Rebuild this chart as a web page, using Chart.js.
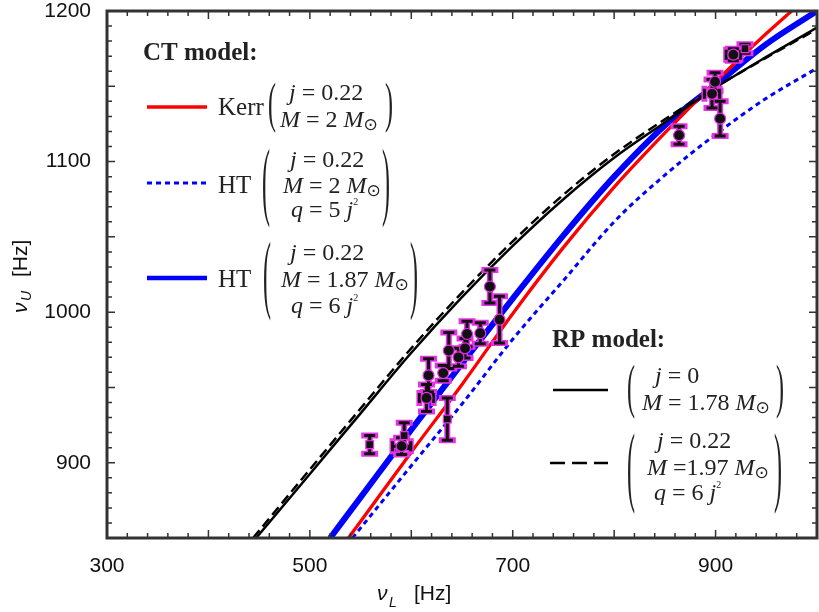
<!DOCTYPE html>
<html>
<head>
<meta charset="utf-8">
<script src="https://cdn.jsdelivr.net/npm/chart.js@4.4.1/dist/chart.umd.min.js"></script>
<style>
  html, body { margin: 0; padding: 0; background: #fff; }
  #wrap { width: 819px; height: 612px; }
</style>
</head>
<body>
<div id="wrap"><canvas id="qpoChart"></canvas></div>
<script>
// observed twin kHz QPOs: lower / upper frequency (Hz) with errors
const obsL = [559, 590.5, 593, 615, 617, 631.5, 635.5, 637, 646.5, 653, 655, 668, 677.5, 687, 864, 904.5, 896.5, 899.5, 917.5, 929];
const obsU = [912, 911, 918, 943, 958, 959.5, 929, 974.5, 970, 976, 985.5, 986, 1017, 995, 1117.5, 1128.5, 1145, 1153, 1171, 1175];
const errU = [6, 5.5, 8.5, 9, 11, 5, 14, 12, 6, 6.5, 8.5, 7, 11, 15.5, 6, 11.5, 9.5, 6, 4, 3];
const errL = [0, 9, 0, 7, 0, 0, 0, 0, 0, 0, 0, 0, 0, 0, 0, 0, 7.5, 0, 7, 0];
const obsMarker = ['rect', 'circle', 'rect', 'circle', 'circle', 'circle', 'rect', 'circle', 'circle', 'circle',
                   'circle', 'circle', 'circle', 'circle', 'circle', 'circle', 'circle', 'circle', 'circle', 'rect'];

// CT model, Kerr j=0.22 M=2
const kerrX = [538, 550, 600, 650, 700, 750, 800, 850, 900, 950, 975];
const kerrY = [850, 861, 907, 952, 999, 1043, 1083, 1119, 1153, 1185, 1200];
// CT model, HT j=0.22 M=2 q=5j^2
const ht2X = [542, 600, 650, 700, 750, 800, 850, 900, 950, 1000];
const ht2Y = [850, 898, 939, 982, 1021, 1060, 1091, 1118, 1142, 1162];
// CT model, HT j=0.22 M=1.87 q=6j^2
const ht187X = [520, 550, 600, 650, 700, 750, 800, 850, 900, 950, 1000];
const ht187Y = [850, 877, 922, 966, 1009, 1051, 1090, 1124, 1151, 1178, 1200];
// RP model, j=0 M=1.78
const rp0X = [447, 500, 550, 600, 650, 700, 750, 800, 850, 900, 950, 1000];
const rp0Y = [850, 892.5, 932.8, 973, 1010, 1044, 1075, 1102.5, 1126, 1149, 1169.5, 1189];
// RP model, j=0.22 M=1.97 q=6j^2
const rp22X = [444, 500, 550, 600, 650, 700, 750, 800, 850, 900, 950, 1000];
const rp22Y = [850, 895.5, 936, 976, 1013, 1047, 1078, 1105, 1128, 1149.5, 1169, 1188];

const xTickValues = [300, 500, 700, 900];
const yTickValues = [900, 1000, 1100, 1200];

const MAGENTA = '#e632e6';
const pts = (xs, ys) => xs.map((x, i) => ({ x: x, y: ys[i] }));

function curve(xs, ys, color, width, dash) {
  return {
    data: pts(xs, ys),
    showLine: true,
    borderColor: color,
    borderWidth: width,
    borderDash: dash || [],
    pointRadius: 0,
    cubicInterpolationMode: 'monotone',
    clip: 0
  };
}

// error bars with magenta halo, drawn just before the observed points
const errorBars = {
  id: 'errorBars',
  beforeDatasetDraw(chart, args) {
    if (args.index !== 0) return;
    const { ctx, chartArea: a, scales: { x, y } } = chart;
    ctx.save();
    ctx.beginPath();
    ctx.rect(a.left, a.top, a.width, a.height);
    ctx.clip();
    [[MAGENTA, 6, 'square'], ['#111', 3, 'butt']].forEach(([col, w, cap]) => {
      ctx.strokeStyle = col;
      ctx.lineWidth = w;
      ctx.lineCap = cap;
      obsL.forEach((l, i) => {
        const px = x.getPixelForValue(l);
        const py = y.getPixelForValue(obsU[i]);
        const t = y.getPixelForValue(obsU[i] + errU[i]);
        const b = y.getPixelForValue(obsU[i] - errU[i]);
        ctx.beginPath();
        ctx.moveTo(px, t); ctx.lineTo(px, b);
        ctx.moveTo(px - 5.5, t); ctx.lineTo(px + 5.5, t);
        ctx.moveTo(px - 5.5, b); ctx.lineTo(px + 5.5, b);
        if (errL[i] > 0) {
          const lx = x.getPixelForValue(l - errL[i]);
          const rx = x.getPixelForValue(l + errL[i]);
          ctx.moveTo(lx, py); ctx.lineTo(rx, py);
          ctx.moveTo(lx, py - 5); ctx.lineTo(lx, py + 5);
          ctx.moveTo(rx, py - 5); ctx.lineTo(rx, py + 5);
        }
        ctx.stroke();
      });
    });
    ctx.restore();
  }
};

// box frame with inward ticks on all four sides
const frameTicks = {
  id: 'frameTicks',
  afterDatasetsDraw(chart) {
    const { ctx, chartArea: a, scales: { x, y } } = chart;
    ctx.save();
    ctx.strokeStyle = '#333';
    ctx.lineWidth = 1.5;
    ctx.beginPath();
    for (let v = 300; v <= 1000; v += 20) {
      const px = x.getPixelForValue(v);
      const len = v % 100 === 0 ? 8 : 5;
      ctx.moveTo(px, a.bottom); ctx.lineTo(px, a.bottom - len);
      ctx.moveTo(px, a.top); ctx.lineTo(px, a.top + len);
    }
    for (let v = 850; v <= 1200; v += 10) {
      const py = y.getPixelForValue(v);
      const len = v % 50 === 0 ? 8 : 5;
      ctx.moveTo(a.left, py); ctx.lineTo(a.left + len, py);
      ctx.moveTo(a.right, py); ctx.lineTo(a.right - len, py);
    }
    ctx.stroke();
    ctx.lineWidth = 3;
    ctx.strokeRect(a.left, a.top, a.width, a.height);
    ctx.restore();
  }
};

const SERIF = '"Liberation Serif", "Times New Roman", serif';
const SANS = '"Liberation Sans", Arial, sans-serif';

// one line of math: [text, kind] runs, kind = n | i | sup | sun
function mathLine(ctx, x, y, runs, size) {
  runs.forEach(([txt, kind]) => {
    let dy = 0;
    if (kind === 'i') ctx.font = `italic ${size}px ${SERIF}`;
    else if (kind === 'sup') { ctx.font = `${Math.round(size * 0.42)}px ${SERIF}`; dy = -size * 0.5; }
    else if (kind === 'sun') { ctx.font = `${Math.round(size * 0.72)}px "DejaVu Sans"`; dy = size * 0.14; }
    else ctx.font = `${size}px ${SERIF}`;
    ctx.fillText(txt, x, y + dy);
    x += ctx.measureText(txt).width;
  });
}

// stretched parenthesis spanning yTop..yBottom
function paren(ctx, ch, x, yTop, yBottom) {
  ctx.save();
  ctx.font = `24px ${SERIF}`;
  const m = ctx.measureText(ch);
  const asc = m.actualBoundingBoxAscent, desc = m.actualBoundingBoxDescent;
  const k = (yBottom - yTop) / (asc + desc);
  ctx.translate(x, yTop + asc * k);
  ctx.scale(1, k);
  ctx.fillText(ch, 0, 0);
  ctx.restore();
}

function sample(ctx, x0, x1, y, color, width, dash) {
  ctx.save();
  ctx.strokeStyle = color;
  ctx.lineWidth = width;
  ctx.setLineDash(dash || []);
  ctx.beginPath();
  ctx.moveTo(x0, y); ctx.lineTo(x1, y);
  ctx.stroke();
  ctx.restore();
}

const modelLegend = {
  id: 'modelLegend',
  afterDraw(chart) {
    const ctx = chart.ctx;
    const S = 24;
    ctx.save();
    ctx.fillStyle = '#222';
    ctx.textBaseline = 'alphabetic';
    ctx.textAlign = 'left';

    ctx.font = `bold 25px ${SERIF}`;
    ctx.fillText('CT model:', 143, 60);

    // Kerr
    sample(ctx, 147, 207, 107, '#ff0000', 3.5);
    ctx.font = `25px ${SERIF}`;
    ctx.fillText('Kerr', 218, 115);
    paren(ctx, '(', 268, 82, 133);
    mathLine(ctx, 289, 100, [['j', 'i'], [' = 0.22', 'n']], S);
    mathLine(ctx, 280, 127, [['M', 'i'], [' = 2 ', 'n'], ['M', 'i'], ['⊙', 'sun']], S);
    paren(ctx, ')', 385, 82, 133);

    // HT, M = 2
    sample(ctx, 147, 207, 183, '#0000ff', 3, [5, 4]);
    ctx.font = `25px ${SERIF}`;
    ctx.fillText('HT', 218, 193);
    paren(ctx, '(', 262, 147, 227);
    mathLine(ctx, 290, 167, [['j', 'i'], [' = 0.22', 'n']], S);
    mathLine(ctx, 283, 193, [['M', 'i'], [' = 2 ', 'n'], ['M', 'i'], ['⊙', 'sun']], S);
    mathLine(ctx, 291, 217, [['q', 'i'], [' = 5 ', 'n'], ['j', 'i'], ['2', 'sup']], S);
    paren(ctx, ')', 382, 147, 227);

    // HT, M = 1.87
    sample(ctx, 147, 207, 278, '#0000ff', 4.5);
    ctx.font = `25px ${SERIF}`;
    ctx.fillText('HT', 218, 287);
    paren(ctx, '(', 263, 240, 320);
    mathLine(ctx, 290, 260, [['j', 'i'], [' = 0.22', 'n']], S);
    mathLine(ctx, 281, 287, [['M', 'i'], [' = 1.87 ', 'n'], ['M', 'i'], ['⊙', 'sun']], S);
    mathLine(ctx, 291, 313, [['q', 'i'], [' = 6 ', 'n'], ['j', 'i'], ['2', 'sup']], S);
    paren(ctx, ')', 410, 240, 320);

    // RP model
    ctx.font = `bold 25px ${SERIF}`;
    ctx.fillText('RP model:', 552, 347);

    sample(ctx, 553, 608, 390, '#000', 2.5);
    paren(ctx, '(', 627, 363, 418);
    mathLine(ctx, 655, 383, [['j', 'i'], [' = 0', 'n']], S);
    mathLine(ctx, 642, 410, [['M', 'i'], [' = 1.78 ', 'n'], ['M', 'i'], ['⊙', 'sun']], S);
    paren(ctx, ')', 776, 363, 418);

    sample(ctx, 550, 608, 463, '#000', 2.5, [15, 7]);
    paren(ctx, '(', 627, 432, 513);
    mathLine(ctx, 657, 448, [['j', 'i'], [' = 0.22', 'n']], S);
    mathLine(ctx, 647, 475, [['M', 'i'], [' =1.97 ', 'n'], ['M', 'i'], ['⊙', 'sun']], S);
    mathLine(ctx, 654, 500, [['q', 'i'], [' = 6 ', 'n'], ['j', 'i'], ['2', 'sup']], S);
    paren(ctx, ')', 774, 432, 513);

    // axis titles with subscripts
    ctx.fillStyle = '#111';
    ctx.font = `italic 21px ${SANS}`;
    ctx.fillText('ν', 377, 600);
    ctx.font = `italic 14px ${SANS}`;
    ctx.fillText('L', 389, 607);
    ctx.font = `21px ${SANS}`;
    ctx.fillText('[Hz]', 414, 600);

    ctx.translate(27, 313);
    ctx.rotate(-Math.PI / 2);
    ctx.font = `italic 21px ${SANS}`;
    ctx.fillText('ν', 0, 0);
    ctx.font = `italic 14px ${SANS}`;
    ctx.fillText('U', 12, 4);
    ctx.font = `21px ${SANS}`;
    ctx.fillText('[Hz]', 36, 0);
    ctx.restore();
  }
};

const tickFont = { family: 'Liberation Sans', size: 21 };

new Chart(document.getElementById('qpoChart').getContext('2d'), {
  type: 'scatter',
  data: {
    datasets: [
      {
        data: pts(obsL, obsU),
        pointStyle: obsMarker,
        pointRadius: 5.5,
        backgroundColor: '#111',
        borderColor: MAGENTA,
        borderWidth: 1.2,
        clip: 0
      },
      curve(rp22X, rp22Y, '#000', 2.5, [10, 5]),
      curve(rp0X, rp0Y, '#000', 2.5),
      curve(kerrX, kerrY, '#ff0000', 3.3),
      curve(ht187X, ht187Y, '#0000ff', 6),
      curve(ht2X, ht2Y, '#0000ff', 3, [5, 4])
    ]
  },
  options: {
    responsive: true,
    maintainAspectRatio: false,
    animation: false,
    layout: { padding: { top: 11, right: 2, left: 0, bottom: 0 }, autoPadding: false },
    plugins: { legend: { display: false }, tooltip: { enabled: false } },
    scales: {
      x: {
        type: 'linear',
        min: 300,
        max: 1000,
        afterBuildTicks: (s) => { s.ticks = xTickValues.map((v) => ({ value: v })); },
        afterFit: (s) => { s.height = 74; s.paddingLeft = 0; s.paddingRight = 0; },
        grid: { display: false, drawTicks: false },
        border: { display: false },
        ticks: { padding: 16, font: tickFont, color: '#111', maxRotation: 0, callback: (v) => String(v) }
      },
      y: {
        type: 'linear',
        min: 850,
        max: 1200,
        afterBuildTicks: (s) => { s.ticks = yTickValues.map((v) => ({ value: v })); },
        afterFit: (s) => { s.width = 107; s.paddingTop = 0; s.paddingBottom = 0; },
        grid: { display: false, drawTicks: false },
        border: { display: false },
        ticks: { padding: 16, font: tickFont, color: '#111', callback: (v) => String(v) }
      }
    }
  },
  plugins: [errorBars, frameTicks, modelLegend]
});
</script>
</body>
</html>
